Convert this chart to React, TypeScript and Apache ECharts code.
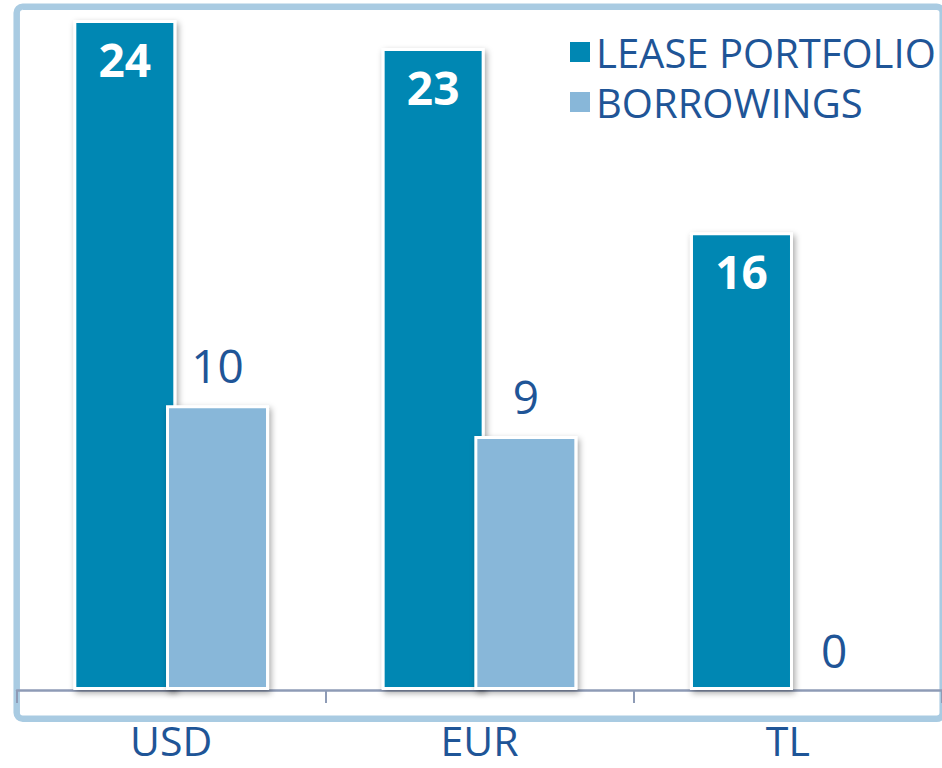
import React, { useEffect, useRef } from "react";
import * as echarts from "echarts";

const categories = ["USD", "EUR", "TL"];
const seriesNames = ["LEASE PORTFOLIO", "BORROWINGS"];
const leasePortfolio = [24.0, 23.0, 16.4];
const borrowings = [10.2, 9.1, 0];

const DARK = "#0087B3";
const LIGHT = "#88B7D9";
const TEXT = "#1F5597";
const FONT = "'Open Sans', 'DejaVu Sans', sans-serif";

export default function App() {
  const ref = useRef<HTMLDivElement>(null);
  useEffect(() => {
    if (!ref.current) return;
    const chart = echarts.init(ref.current, null, { renderer: "svg" });
    const barItemStyle = {
      borderColor: "#ffffff",
      borderWidth: 3,
      shadowBlur: 6,
      shadowColor: "rgba(0,0,0,0.35)",
      shadowOffsetX: 2,
      shadowOffsetY: 3,
    };
    const mkData = (arr: number[]) =>
      arr.map((v) =>
        v === 0
          ? {
              value: v,
              itemStyle: {
                color: "transparent",
                borderWidth: 0,
                shadowColor: "transparent",
                shadowBlur: 0,
              },
            }
          : v
      );
    chart.setOption({
      animation: false,
      textStyle: { fontFamily: FONT },
      graphic: [
        {
          type: "rect",
          shape: { x: 16.7, y: 6.8, width: 926, height: 712, r: 6 },
          style: { fill: "none", stroke: "#A9CBE2", lineWidth: 6.5 },
          z: -1,
          silent: true,
        },
      ],
      legend: {
        data: seriesNames,
        orient: "vertical",
        left: 565,
        top: 27,
        icon: "rect",
        itemWidth: 20,
        itemHeight: 20,
        itemGap: 10,
        itemStyle: { borderWidth: 0, shadowColor: "transparent", shadowBlur: 0 },
        textStyle: {
          fontSize: 40,
          lineHeight: 40,
          color: TEXT,
          fontFamily: FONT,
          padding: [0, 0, 0, 1],
        },
      },
      grid: { left: 17, right: -2, top: 20, bottom: 78, containLabel: false },
      xAxis: {
        type: "category",
        data: categories,
        axisLine: { show: true, lineStyle: { color: "#8E9BB6", width: 2.5 } },
        axisTick: {
          show: true,
          length: 13,
          alignWithLabel: false,
          lineStyle: { color: "#8E9BB6", width: 2 },
        },
        axisLabel: {
          color: TEXT,
          fontSize: 41,
          lineHeight: 36,
          margin: 32,
          fontFamily: FONT,
        },
      },
      yAxis: {
        type: "value",
        min: 0,
        max: 24,
        show: false,
        splitLine: { show: false },
      },
      series: [
        {
          name: seriesNames[0],
          type: "bar",
          data: mkData(leasePortfolio),
          barWidth: 103,
          barGap: "-10%",
          itemStyle: { color: DARK, ...barItemStyle },
          label: {
            show: true,
            position: "insideTop",
            distance: 16,
            color: "#ffffff",
            fontWeight: "bold",
            fontSize: 46,
            fontFamily: FONT,
            formatter: (p: any) => String(Math.round(p.value)),
          },
        },
        {
          name: seriesNames[1],
          type: "bar",
          data: mkData(borrowings),
          barWidth: 103,
          barGap: "-10%",
          itemStyle: { color: LIGHT, ...barItemStyle },
          label: {
            show: true,
            position: "top",
            distance: 17,
            color: TEXT,
            fontSize: 46,
            fontFamily: FONT,
            formatter: (p: any) => String(Math.round(p.value)),
          },
        },
      ],
    });
    return () => chart.dispose();
  }, []);
  return (
    <div
      ref={ref}
      style={{ position: "fixed", left: 0, top: 0, width: 942, height: 768, background: "#fff" }}
    />
  );
}
